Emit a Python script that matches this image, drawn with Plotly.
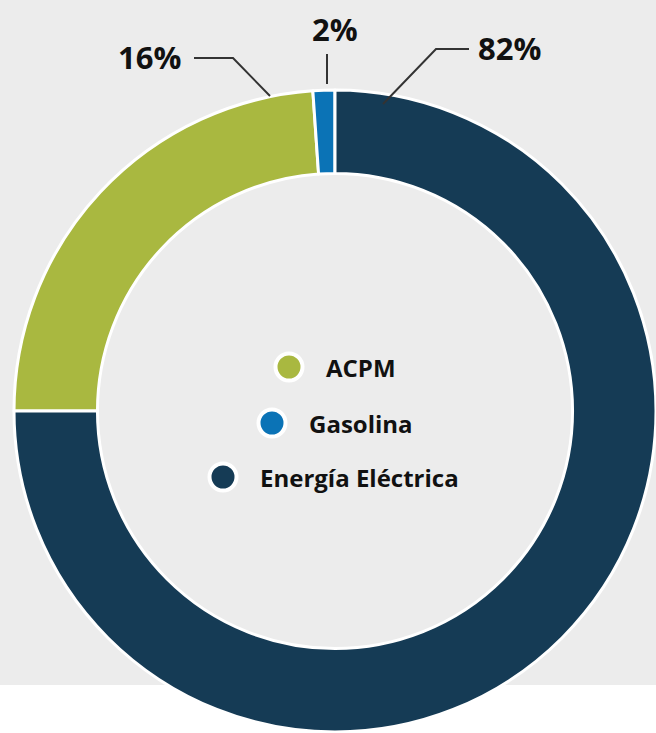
import plotly.graph_objects as go

# data (slice sizes follow the drawn arcs, labels follow the printed text)
categories = ["ACPM", "Gasolina", "Energía Eléctrica"]
values = [23.9, 1.1, 75.0]
pct_labels = ["16%", "2%", "82%"]
colors = ["#a9b840", "#0b73b6", "#153b55"]

W, H = 656, 733
BG = "#ececec"
FONT = "Open Sans"

fig = go.Figure()

fig.add_trace(
    go.Pie(
        labels=categories,
        values=values,
        hole=0.74,
        sort=False,
        direction="clockwise",
        rotation=270,
        marker=dict(colors=colors, line=dict(color="white", width=3)),
        textinfo="none",
        hoverinfo="label+percent",
        showlegend=False,
        domain=dict(x=[14 / W, 1], y=[0, 1 - 89 / H]),
    )
)

# legend in the hole: circles plus labels
leg_x = [289, 272, 223]
leg_y = [367, 423, 477]
fig.add_trace(
    go.Scatter(
        x=leg_x,
        y=leg_y,
        mode="markers",
        marker=dict(size=27, color=colors, line=dict(color="white", width=4)),
        hovertext=categories,
        hoverinfo="text",
        showlegend=False,
    )
)
for cx, cy, name in zip(leg_x, leg_y, categories):
    fig.add_annotation(
        x=cx + 35, y=cy, text=f"<b>{name}</b>", showarrow=False,
        xanchor="left", yanchor="middle",
        font=dict(family=FONT, size=24, color="#111111"),
    )

# percentage callouts with leader lines
label_pos = [(149, 57), (335, 29), (509, 48)]
leaders = [
    "M 194,58 L 233,58 L 270,96",
    "M 327,54 L 327,84",
    "M 383,104 L 436,49 L 469,49",
]
for (tx, ty), txt, path in zip(label_pos, pct_labels, leaders):
    fig.add_annotation(
        x=tx, y=ty, text=f"<b>{txt}</b>", showarrow=False,
        xanchor="center", yanchor="middle",
        font=dict(family=FONT, size=31, color="#111111"),
    )
    fig.add_shape(type="path", path=path, xref="x", yref="y",
                  line=dict(color="#333333", width=2))

# grey panel behind the chart
fig.add_shape(type="rect", xref="paper", yref="paper", x0=0, x1=1,
              y0=1 - 685 / H, y1=1, fillcolor=BG, line_width=0, layer="below")

fig.update_xaxes(range=[0, W], visible=False, fixedrange=True)
fig.update_yaxes(range=[H, 0], visible=False, fixedrange=True)
fig.update_layout(
    width=W,
    height=H,
    margin=dict(l=0, r=0, t=0, b=0),
    paper_bgcolor="white",
    plot_bgcolor="rgba(0,0,0,0)",
    showlegend=False,
)

# drop the browser's default body margin so the figure fills the window
fig.write_html(
    "out.html",
    config={"displayModeBar": False},
    post_script="document.body.style.margin='0';document.body.style.overflow='hidden';",
)
